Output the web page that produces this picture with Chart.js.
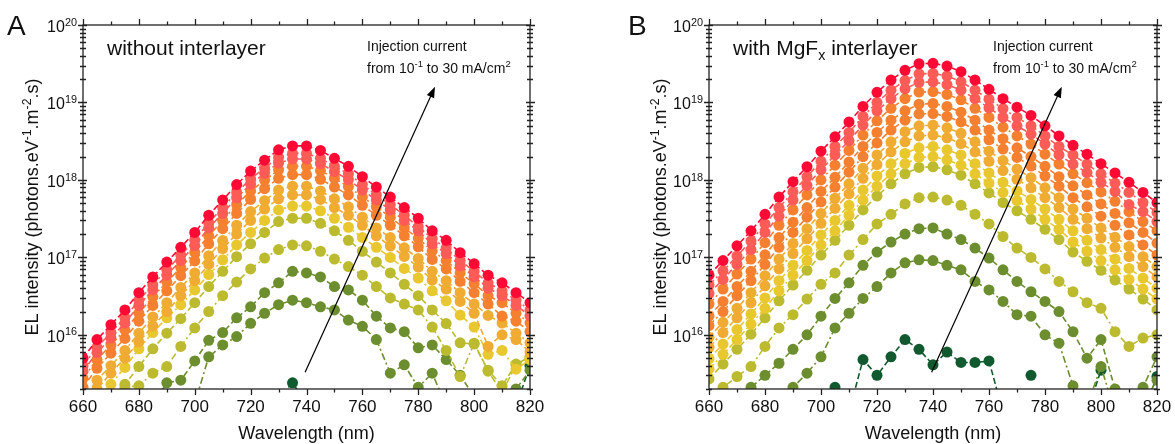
<!DOCTYPE html>
<html>
<head>
<meta charset="utf-8">
<script src="https://cdn.jsdelivr.net/npm/chart.js@4.4.1/dist/chart.umd.min.js"></script>
<style>
html, body { margin: 0; padding: 0; background: #fff; }
#wrap { position: relative; width: 1175px; height: 444px; overflow: hidden; }
canvas { position: absolute; top: 0; }
#chartA { left: 0; }
#chartB { left: 590px; }
</style>
</head>
<body>
<div id="wrap">
  <canvas id="chartA" width="590" height="444"></canvas>
  <canvas id="chartB" width="585" height="444"></canvas>
</div>
<script>
// Data
const wavelengths = [660,665,670,675,680,685,690,695,700,705,710,715,720,725,730,735,740,745,750,755,760,765,770,775,780,785,790,795,800,805,810,815,820];

// panel A - without interlayer, highest current first
const a01 = [5.0e15,8.7e15,1.35e16,2.1e16,3.5e16,5.6e16,8.7e16,1.35e17,2.1e17,3.5e17,5.5e17,8.7e17,1.3e18,1.8e18,2.45e18,2.75e18,2.75e18,2.4e18,1.9e18,1.5e18,1.1e18,8.1e17,6.0e17,4.4e17,3.2e17,2.2e17,1.66e17,1.15e17,8.3e16,5.9e16,4.7e16,3.5e16,2.6e16];
const a02 = [4.0e15,6.9e15,1.07e16,1.67e16,2.8e16,4.4e16,6.9e16,1.07e17,1.67e17,2.8e17,4.4e17,6.9e17,1.03e18,1.43e18,1.95e18,2.2e18,2.2e18,1.9e18,1.5e18,1.2e18,8.7e17,6.4e17,4.8e17,3.5e17,2.5e17,1.75e17,1.32e17,9.1e16,6.6e16,4.7e16,3.7e16,2.8e16,2.1e16];
const a03 = [3.4e15,5.9e15,9.1e15,1.42e16,2.4e16,3.8e16,5.9e16,9.1e16,1.42e17,2.4e17,3.7e17,5.9e17,8.8e17,1.22e18,1.66e18,1.86e18,1.86e18,1.62e18,1.28e18,1.01e18,7.4e17,5.5e17,4.1e17,3.0e17,2.2e17,1.49e17,1.12e17,7.8e16,5.6e16,4.0e16,3.2e16,2.4e16,1.76e16];
const a04 = [2.75e15,4.8e15,7.4e15,1.16e16,1.9e16,3.1e16,4.8e16,7.4e16,1.16e17,1.9e17,3.0e17,4.8e17,7.2e17,9.9e17,1.35e18,1.5e18,1.5e18,1.32e18,1.05e18,8.2e17,6.0e17,4.5e17,3.3e17,2.4e17,1.76e17,1.21e17,9.1e16,6.3e16,4.6e16,3.2e16,2.6e16,1.9e16,1.43e16];
const a05 = [2.1e15,3.7e15,5.8e15,9.0e15,1.5e16,2.4e16,3.7e16,5.8e16,9.0e16,1.5e17,2.35e17,3.7e17,5.6e17,7.7e17,1.05e18,1.17e18,1.17e18,1.02e18,8.1e17,6.4e17,4.7e17,3.5e17,2.6e17,1.9e17,1.37e17,9.4e16,7.1e16,4.9e16,3.5e16,2.5e16,1.75e16,1.5e16,1.1e16];
const a06 = [1.5e15,2.6e15,4.0e15,6.3e15,1.05e16,1.7e16,2.6e16,4.1e16,6.3e16,1.05e17,1.65e17,2.6e17,3.9e17,5.4e17,7.4e17,8.3e17,8.3e17,7.2e17,5.7e17,4.5e17,3.3e17,2.4e17,1.8e17,1.33e17,9.7e16,6.6e16,5.0e16,3.5e16,2.5e16,1.78e16,1.42e16,1.05e16,7.9e15];
const a07 = [1.1e15,2.0e15,3.2e15,5.0e15,8.1e15,1.3e16,2.0e16,3.2e16,5.0e16,8.1e16,1.3e17,2.0e17,3.0e17,4.2e17,5.7e17,6.4e17,6.4e17,5.6e17,4.4e17,3.5e17,2.6e17,1.9e17,1.4e17,1.03e17,7.5e16,5.1e16,3.9e16,2.7e16,1.9e16,7.1e15,1.0e16,8.7e15,6.0e15];
const a08 = [7.6e14,1.45e15,2.3e15,3.8e15,6.6e15,1.07e16,1.66e16,2.45e16,3.8e16,6.0e16,9.3e16,1.45e17,2.1e17,3.0e17,4.1e17,4.6e17,4.6e17,4.0e17,3.2e17,2.45e17,1.8e17,1.35e17,1.0e17,7.2e16,5.4e16,3.7e16,2.75e16,1.8e16,1.26e16,5.6e15,6.3e15,3.6e15,4.8e15];
const a09 = [3.8e14,7.8e14,1.35e15,2.3e15,3.9e15,6.6e15,1.05e16,1.62e16,2.6e16,4.2e16,6.6e16,1.02e17,1.5e17,2.1e17,2.9e17,3.2e17,3.2e17,2.75e17,2.2e17,1.66e17,1.2e17,8.7e16,6.3e16,4.5e16,3.2e16,2.1e16,1.4e16,7.9e15,7.6e15,3.5e15,2.2e15,4.2e15,5.2e15];
const a10 = [6e14,7e14,9e14,2.1e15,2.2e15,3.2e15,3.9e15,7.1e15,1.23e16,2.0e16,3.2e16,4.8e16,7.1e16,9.8e16,1.26e17,1.45e17,1.41e17,1.2e17,9.5e16,7.6e16,5.9e16,4.2e16,3.0e16,2.5e16,2.1e16,1.26e16,6.3e15,2.9e15,7.8e15,3.4e15,1.8e15,4.1e15,5.0e15];
const a11 = [1e15,1e15,1e15,1e15,1e15,1.26e15,2.4e15,2.6e15,4.6e15,8.5e15,1.07e16,1.66e16,2.3e16,3.5e16,4.7e16,6.6e16,6.3e16,5.6e16,4.2e16,3.8e16,2.8e16,1.74e16,1.23e16,1.1e16,6.8e15,7.4e15,4.8e15,3.0e15,1.6e15,1e15,1e15,2.0e15,3.5e15];
const a12 = [1e15,1e15,1e15,1e15,1e15,1e15,1e15,1e15,1.3e15,5.2e15,7.4e15,9.5e15,1.41e16,1.9e16,2.45e16,2.8e16,2.6e16,2.3e16,2.1e16,1.55e16,1.29e16,8.7e15,3.2e15,4.1e15,2.1e15,3.2e15,1.2e15,1e15,1e15,1e15,1e15,1e15,1e15];
const a13 = [1e15,1e15,1e15,1e15,1e15,1e15,1e15,1e15,1e15,1e15,1e15,1e15,1e15,1e15,1.5e15,2.4e15,1.3e15,1e15,1e15,1e15,1e15,1e15,1e15,1e15,1e15,1e15,1e15,1e15,1e15,1e15,1e15,1.2e15,4e15];

// panel B - with MgFx interlayer, highest current first
const b01 = [5.9e16,9.1e16,1.41e17,2.2e17,3.6e17,6.0e17,9.5e17,1.48e18,2.35e18,3.6e18,5.6e18,8.9e18,1.35e19,1.95e19,2.6e19,3.16e19,3.2e19,2.95e19,2.5e19,1.95e19,1.48e19,1.12e19,8.7e18,6.8e18,5.0e18,3.7e18,2.8e18,2.15e18,1.62e18,1.23e18,9.3e17,6.9e17,5.1e17];
const b02 = [4.4e16,6.7e16,1.04e17,1.63e17,2.7e17,4.4e17,7.0e17,1.1e18,1.74e18,2.7e18,4.1e18,6.6e18,1.0e19,1.44e19,1.92e19,2.34e19,2.37e19,2.2e19,1.85e19,1.44e19,1.1e19,8.3e18,6.4e18,5.0e18,3.7e18,2.7e18,2.1e18,1.6e18,1.2e18,9.1e17,6.9e17,5.1e17,3.8e17];
const b03 = [3.4e16,5.2e16,8.1e16,1.26e17,2.1e17,3.4e17,5.5e17,8.5e17,1.35e18,2.1e18,3.2e18,5.1e18,7.8e18,1.12e19,1.5e19,1.82e19,1.84e19,1.7e19,1.44e19,1.12e19,8.5e18,6.4e18,5.0e18,3.9e18,2.9e18,2.1e18,1.6e18,1.24e18,9.3e17,7.1e17,4.8e17,3.9e17,2.9e17];
const b04 = [2.5e16,3.9e16,6.1e16,9.5e16,1.55e17,2.6e17,4.1e17,6.4e17,1.0e18,1.55e18,2.4e18,3.8e18,5.8e18,8.4e18,1.12e19,1.36e19,1.38e19,1.27e19,1.08e19,8.4e18,6.4e18,4.8e18,3.7e18,2.9e18,2.15e18,1.6e18,1.2e18,9.2e17,7.0e17,5.3e17,3.9e17,2.9e17,2.2e17];
const b05 = [1.75e16,2.7e16,4.2e16,6.6e16,1.08e17,1.8e17,2.85e17,4.4e17,7.1e17,1.08e18,1.7e18,2.7e18,4.1e18,5.9e18,7.8e18,9.5e18,9.7e18,8.9e18,7.5e18,5.9e18,4.4e18,3.4e18,2.6e18,2.0e18,1.5e18,1.1e18,8.4e17,6.4e17,4.9e17,3.7e17,2.8e17,2.1e17,1.53e17];
const b06 = [1.32e16,2.0e16,3.2e16,5.0e16,8.1e16,1.35e17,2.1e17,3.3e17,5.2e17,8.1e17,1.26e18,2.0e18,3.0e18,4.4e18,5.9e18,7.1e18,7.2e18,6.6e18,5.6e18,4.4e18,3.3e18,2.5e18,1.95e18,1.51e18,1.12e18,8.3e17,5.9e17,4.5e17,3.4e17,2.6e17,1.95e17,1.45e17,1.07e17];
const b07 = [9.3e15,1.45e16,2.2e16,3.5e16,5.8e16,9.5e16,1.51e17,2.35e17,3.7e17,5.8e17,8.9e17,1.41e18,2.1e18,3.1e18,4.2e18,5.0e18,5.1e18,4.7e18,4.0e18,3.1e18,2.35e18,1.78e18,1.38e18,1.07e18,7.9e17,5.9e17,4.2e17,3.2e17,2.4e17,1.82e17,1.38e17,1.02e17,7.6e16];
const b08 = [6.9e15,1.07e16,1.66e16,2.6e16,4.3e16,7.1e16,1.12e17,1.74e17,2.75e17,4.3e17,6.6e17,1.05e18,1.58e18,2.3e18,3.1e18,3.7e18,3.8e18,3.5e18,2.95e18,2.3e18,1.74e18,1.32e18,1.02e18,7.9e17,5.9e17,4.4e17,3.1e17,2.35e17,1.78e17,1.35e17,1.02e17,7.6e16,5.6e16];
const b09 = [4.9e15,7.6e15,1.17e16,1.86e16,3.0e16,5.0e16,7.9e16,1.23e17,1.95e17,3.0e17,4.7e17,7.4e17,1.12e18,1.62e18,2.2e18,2.6e18,2.7e18,2.45e18,2.1e18,1.62e18,1.23e18,9.3e17,7.2e17,5.6e17,4.2e17,3.1e17,2.2e17,1.66e17,1.26e17,9.5e16,7.2e16,5.4e16,4.0e16];
const b10 = [3.6e15,5.6e15,8.7e15,1.38e16,2.2e16,3.7e16,5.9e16,9.1e16,1.45e17,2.2e17,3.5e17,5.5e17,8.3e17,1.2e18,1.62e18,1.95e18,2.0e18,1.82e18,1.55e18,1.2e18,9.1e17,6.9e17,5.4e17,4.2e17,3.1e17,2.3e17,1.58e17,1.2e17,9.1e16,6.9e16,5.2e16,3.9e16,2.9e16];
const b11 = [2.7e15,4.2e15,6.5e15,1.02e16,1.66e16,2.75e16,4.4e16,6.8e16,1.07e17,1.66e17,2.6e17,4.1e17,6.2e17,8.9e17,1.2e18,1.45e18,1.48e18,1.35e18,1.15e18,8.9e17,6.8e17,5.1e17,4.0e17,3.1e17,2.3e17,1.7e17,1.17e17,8.9e16,6.8e16,5.1e16,3.9e16,2.9e16,2.1e16];
const b12 = [1.1e15,2.1e15,2.9e15,3.9e15,7.1e15,1.23e16,1.82e16,2.9e16,4.5e16,6.3e16,1.07e17,1.7e17,2.7e17,3.6e17,4.9e17,5.9e17,6.0e17,5.5e17,4.7e17,3.6e17,2.7e17,1.86e17,1.32e17,1.0e17,7.1e16,4.9e16,3.6e16,2.6e16,2.2e16,1.1e16,7.1e15,9.1e15,1.0e16];
const b13 = [1e15,1e15,1.2e15,2.1e15,3.0e15,4.3e15,6.5e15,1.0e16,1.74e16,2.95e16,4.7e16,7.9e16,1.17e17,1.58e17,2.0e17,2.35e17,2.4e17,2.0e17,1.7e17,1.32e17,9.8e16,6.9e16,4.9e16,3.6e16,2.7e16,2.0e16,1.1e16,5.0e15,8.7e15,2.0e15,1.5e15,1.3e15,2.6e15];
const b14 = [1e15,1e15,1e15,1e15,1e15,1e15,2.1e15,3.2e15,5.2e15,1.23e16,1.9e16,2.95e16,4.2e16,6.3e16,8.5e16,9.3e16,9.1e16,7.9e16,6.9e16,4.9e16,3.8e16,2.7e16,1.82e16,1.74e16,1.0e16,7.8e15,2.2e15,1.2e15,3.9e15,1e15,1e15,2.1e15,5.2e15];
const b15 = [1e15,1e15,1e15,1e15,1e15,1e15,1e15,1e15,null,2.1e15,1e15,4.8e15,3.0e15,5.2e15,8.7e15,6.5e15,4.1e15,6.0e15,4.4e15,4.4e15,4.6e15,1e15,null,3.0e15,null,null,null,1e15,3.5e15,null,null,1e15,2.9e15];

// Colours
const RED = '#ff0a35', SALMON = '#ff5b57', ORANGE = '#f5802f', AMBER = '#f0ab32';
const YELLOW = '#e9c72e', OLIVE = '#bcbb2f', GREEN = '#6c8e2e', DARK = '#115a2f';

const seriesA = [a01,a02,a03,a04,a05,a06,a07,a08,a09,a10,a11,a12,a13];
const colorsA = [RED,SALMON,SALMON,ORANGE,ORANGE,AMBER,AMBER,YELLOW,OLIVE,OLIVE,GREEN,GREEN,DARK];
const seriesB = [b01,b02,b03,b04,b05,b06,b07,b08,b09,b10,b11,b12,b13,b14,b15];
const colorsB = [RED,SALMON,SALMON,ORANGE,ORANGE,ORANGE,AMBER,AMBER,YELLOW,YELLOW,OLIVE,OLIVE,GREEN,GREEN,DARK];

const yTicks = [1e16, 1e17, 1e18, 1e19, 1e20];
const xTicks = [660, 680, 700, 720, 740, 760, 780, 800, 820];

const FONT = "'Liberation Sans', Arial, Helvetica, sans-serif";
const font = size => `${size}px ${FONT}`;

// draws text made of [string, kind] parts, kind = '' | 'sup' | 'sub'
function drawRich(ctx, parts, x, y, size, align){
  const small = size * 0.68;
  let w = 0;
  parts.forEach(([t, k]) => { ctx.font = font(k ? small : size); w += ctx.measureText(t).width; });
  let cx = align === 'right' ? x - w : (align === 'center' ? x - w / 2 : x);
  ctx.textAlign = 'left';
  ctx.textBaseline = 'alphabetic';
  parts.forEach(([t, k]) => {
    ctx.font = font(k ? small : size);
    const dy = k === 'sup' ? -size * 0.4 : (k === 'sub' ? size * 0.25 : 0);
    ctx.fillText(t, cx, y + dy);
    cx += ctx.measureText(t).width;
  });
}

const frame = {
  id: 'frame',
  afterDatasetsDraw(chart, args, opts){
    const ctx = chart.ctx;
    const area = chart.chartArea;
    const xs = chart.scales.x, ys = chart.scales.y;
    ctx.save();
    ctx.strokeStyle = '#222';
    ctx.fillStyle = '#111';
    ctx.lineWidth = 1.3;
    ctx.strokeRect(area.left, area.top, area.right - area.left, area.bottom - area.top);

    // x ticks, minor every 10 nm
    ctx.beginPath();
    for(let v = 660; v <= 820; v += 10){
      const px = Math.round(xs.getPixelForValue(v)) + 0.5;
      const len = v % 20 === 0 ? 6 : 3.5;
      ctx.moveTo(px, area.bottom); ctx.lineTo(px, area.bottom + len);
      ctx.moveTo(px, area.top); ctx.lineTo(px, area.top - len);
    }
    // y ticks, log minor
    for(let e = 15; e <= 20; e++){
      for(let m = 1; m <= 9; m++){
        const v = m * Math.pow(10, e);
        if(v < ys.min * 0.999 || v > ys.max * 1.001) continue;
        const py = Math.round(ys.getPixelForValue(v)) + 0.5;
        const a = m === 1 ? 5 : 3, b = m === 1 ? 4 : 3;
        ctx.moveTo(area.left - a, py); ctx.lineTo(area.left + b, py);
        ctx.moveTo(area.right - b, py); ctx.lineTo(area.right + a, py);
      }
    }
    ctx.stroke();

    // tick labels
    ctx.font = font(17);
    ctx.textAlign = 'center';
    ctx.textBaseline = 'alphabetic';
    xTicks.forEach(v => ctx.fillText(String(v), xs.getPixelForValue(v), area.bottom + 23));
    yTicks.forEach(v => {
      const py = ys.getPixelForValue(v);
      drawRich(ctx, [['10', ''], [String(Math.round(Math.log10(v))), 'sup']], area.left - 6, py + 7, 16, 'right');
    });

    // axis titles
    drawRich(ctx, [['Wavelength (nm)', '']], (area.left + area.right) / 2, 439, 18, 'center');
    ctx.save();
    ctx.translate(area.left + opts.yTitleOffset, (area.top + area.bottom) / 2);
    ctx.rotate(-Math.PI / 2);
    drawRich(ctx, [['EL intensity (photons.eV', ''], ['-1', 'sup'], ['.m', ''], ['-2', 'sup'], ['.s)', '']], 0, 0, 18, 'center');
    ctx.restore();

    // panel letter and labels
    ctx.font = font(28);
    ctx.textAlign = 'left';
    ctx.fillText(opts.letter, opts.letterX, 35);
    drawRich(ctx, opts.label, area.left + 24, 55, 21, 'left');
    drawRich(ctx, [['Injection current', '']], area.left + 284, 51, 14, 'left');
    drawRich(ctx, [['from 10', ''], ['-1', 'sup'], [' to 30 mA/cm', ''], ['2', 'sup']], area.left + 284, 73, 14, 'left');

    // arrow
    const x0 = xs.getPixelForValue(739.5), y0 = ys.getPixelForValue(3.3e15);
    const x1 = xs.getPixelForValue(786), y1 = ys.getPixelForValue(1.6e19);
    const ang = Math.atan2(y1 - y0, x1 - x0);
    ctx.strokeStyle = '#000';
    ctx.lineWidth = 1.2;
    ctx.beginPath();
    ctx.moveTo(x0, y0);
    ctx.lineTo(x1 - 8 * Math.cos(ang), y1 - 8 * Math.sin(ang));
    ctx.stroke();
    ctx.fillStyle = '#000';
    ctx.beginPath();
    ctx.moveTo(x1, y1);
    ctx.lineTo(x1 - 11 * Math.cos(ang) + 4 * Math.sin(ang), y1 - 11 * Math.sin(ang) - 4 * Math.cos(ang));
    ctx.lineTo(x1 - 11 * Math.cos(ang) - 4 * Math.sin(ang), y1 - 11 * Math.sin(ang) + 4 * Math.cos(ang));
    ctx.closePath();
    ctx.fill();
    ctx.restore();
  }
};

function makeDatasets(series, colors){
  return series.map((arr, i) => ({
    data: wavelengths.map((w, j) => ({ x: w, y: arr[j] })),
    borderColor: colors[i],
    backgroundColor: colors[i],
    pointBackgroundColor: colors[i],
    borderWidth: 1.6,
    borderDash: i % 2 === 0 ? [6, 3] : [7, 3, 2, 3],
    pointRadius: 5.5,
    pointBorderWidth: 0,
    pointHoverRadius: 5.5,
    tension: 0,
    spanGaps: false
  }));
}

function makeChart(id, series, colors, padRight, padLeft, opts){
  return new Chart(document.getElementById(id), {
    type: 'line',
    data: { datasets: makeDatasets(series, colors) },
    options: {
      responsive: false,
      animation: false,
      devicePixelRatio: 1,
      events: [],
      layout: { padding: { left: padLeft, right: padRight, top: 25, bottom: 55 } },
      scales: {
        x: { type: 'linear', min: 660, max: 820, display: false },
        y: { type: 'logarithmic', min: 2e15, max: 1e20, display: false }
      },
      plugins: { legend: { display: false }, tooltip: { enabled: false }, frame: opts }
    },
    plugins: [frame]
  });
}

makeChart('chartA', seriesA, colorsA, 60, 83, {
  letter: 'A', letterX: 7, yTitleOffset: -45,
  label: [['without interlayer', '']]
});
makeChart('chartB', seriesB, colorsB, 18, 119, {
  letter: 'B', letterX: 38, yTitleOffset: -43,
  label: [['with MgF', ''], ['x', 'sub'], [' interlayer', '']]
});
</script>
</body>
</html>
